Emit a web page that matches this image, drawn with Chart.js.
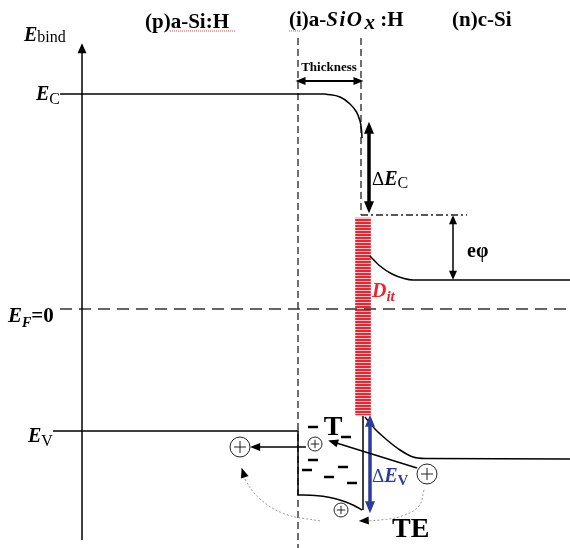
<!DOCTYPE html>
<html><head><meta charset="utf-8">
<style>html,body{margin:0;padding:0;background:#fff}canvas{display:block}</style>
<script src="https://cdn.jsdelivr.net/npm/chart.js@4"></script>
</head><body>
<canvas id="c" width="570" height="548"></canvas>
<script>
// ---- band-diagram data (x: position, arb. units; y: energy, arb. units, E_F = 0) ----
const yAxisLine   = [[82,-231],[82,264]];
const ifaceLeft   = [[298,271],[298,-239]];
const ifaceRight  = [[361,271],[361,94]];
const thickness   = [[298,228],[361,228]];
const ecPFlat     = [[60,215],[325,215]];
const ecPBend     = [[325,215],[340,212],[350,205],[356.5,197],[360,188],[361.5,179],[362,171]];
const dEC         = [[369,183],[369,100]];
const ecInterface = [[361,94],[467,94]];
const ePhi        = [[453,92],[453,31]];
const ecN         = [[370,53],[380,43],[392,35],[404,30.5],[413,29],[570,29]];
const fermi       = [[60,0],[570,0]];
const dit         = [[363,-106,91]];
const evP         = [[53,-122],[298,-122],[298,-186]];
const evOxide     = [[298,-186],[315,-186.5],[330,-188.5],[343,-192],[354,-196.5],[362,-201]];
const oxRight     = [[363,-107],[363,-201]];
const evN         = [[365,-108],[375,-120],[387,-131],[400,-141],[413,-148],[425,-149.5],[570,-150]];
const dEV         = [[370,-110],[370,-200]];
const holeArrow1  = [[306,-138],[252,-138]];
const holeArrow2  = [[417,-159],[330,-132]];
const teArrow1    = [[320,-212],[285,-205],[260,-190],[246,-172],[242,-160]];
const teArrow2    = [[424,-181],[419,-197],[402,-207],[380,-211],[360,-212]];
const holes       = [[240,-138],[315,-135],[427,-165],[341,-201]];
const holeSize    = [10,7,10,7];
const charges     = [[313,-118],[346,-128],[313,-151],[307,-161],[343,-158],[329,-168],[352,-174]];
const underline1  = [[170,278],[235,278]];
const underline2  = [[289,278],[300,278]];

const pts = a => a.map(([x,y]) => ({x,y}));
const BLUE = '#2b3d9c', RED = '#ec2430';

// stripe pattern for interface defect density
const pc = document.createElement('canvas'); pc.width = 4; pc.height = 3;
const pctx = pc.getContext('2d');
pctx.fillStyle = '#fbc6ca'; pctx.fillRect(0,0,4,3);
pctx.fillStyle = RED; pctx.fillRect(0,0,4,2);
const ctx = document.getElementById('c').getContext('2d');
const stripe = ctx.createPattern(pc, 'repeat');

const line = (data, o={}) => Object.assign({data: pts(data), borderColor:'#000', borderWidth:1.5,
  pointRadius:0, fill:false, clip:false, tension:0}, o);
const curve = (data, o={}) => line(data, Object.assign({cubicInterpolationMode:'monotone'}, o));

const datasets = [
  {data: pts(holes), showLine:false, pointStyle:'cross', pointRadius: holeSize.map(r=>r*0.6),
   pointBorderColor:'#222', pointBorderWidth:1, clip:false},
  {data: pts(holes), showLine:false, pointStyle:'circle', pointRadius: holeSize,
   pointBackgroundColor:'#fff', pointBorderColor:'#222', pointBorderWidth:1, clip:false},
  {data: pts(charges), showLine:false, pointStyle:'line', pointRadius:5,
   pointBorderColor:'#000', pointBorderWidth:2.5, clip:false},
  line(holeArrow1, {arrow:{end:true, len:10, w:8}}),
  line(holeArrow2, {arrow:{end:true, len:10, w:8}}),
  line(teArrow1, {borderColor:'#9a9a9a', borderWidth:1, borderDash:[2,2], tension:0.4, arrow:{end:true, len:10, w:8, color:'#000'}}),
  line(teArrow2, {borderColor:'#9a9a9a', borderWidth:1, borderDash:[2,2], tension:0.4, arrow:{end:true, len:10, w:8, color:'#000'}}),
  line(dEV, {borderColor:BLUE, borderWidth:3.5, arrow:{start:true, end:true, len:12, w:10}}),
  line(dEC, {borderWidth:3.5, arrow:{start:true, end:true, len:12, w:10}}),
  line(ePhi, {borderWidth:1.5, arrow:{start:true, end:true, len:9, w:8}}),
  line(thickness, {borderWidth:2, arrow:{start:true, end:true, len:10, w:8}}),
  line(yAxisLine, {borderWidth:1.5, arrow:{end:true, len:10, w:9}}),
  line(ecPFlat), line(ecPBend, {tension:0.4}),
  curve(ecN), curve(evN), curve(evOxide),
  line(evP), line(oxRight),
  line(fermi, {borderColor:'#333', borderDash:[12,7]}),
  line(ifaceLeft, {borderColor:'#222', borderWidth:1.3, borderDash:[7,4]}),
  line(ifaceRight, {borderColor:'#222', borderWidth:1.3, borderDash:[7,4]}),
  line(ecInterface, {borderColor:'#222', borderWidth:1.3, borderDash:[7,3,2,3]}),
  line(underline1, {borderColor:'#e05050', borderWidth:1, borderDash:[1,1]}),
  line(underline2, {borderColor:'#e05050', borderWidth:1, borderDash:[1,1]}),
  {type:'bar', data: dit.map(([x,a,b]) => ({x, y:[a,b]})), backgroundColor: stripe,
   borderWidth:0, barThickness:15, grouped:false}
];

const SERIF = '"Liberation Serif", "Times New Roman", serif';
const f = (s) => s + ' ' + SERIF;
const labels = [
  {x:145, y:281, parts:[{t:'(p)a-Si:H', f:f('bold 21px')}]},
  {x:289, y:283, parts:[{t:'(i)a-', f:f('bold 21px')},{t:'SiO', f:f('italic bold 21px'), ls:'1.5px'},
    {t:'x', f:f('italic bold 21px'), dy:3, dx:1},{t:' :H', f:f('bold 21px')}]},
  {x:452, y:283, parts:[{t:'(n)c-Si', f:f('bold 21px')}]},
  {x:24, y:268, parts:[{t:'E', f:f('italic bold 20px')},{t:'bind', f:f('16px'), dy:1}]},
  {x:329, y:238, align:'center', parts:[{t:'Thickness', f:f('bold 13px')}]},
  {x:36, y:209, parts:[{t:'E', f:f('italic bold 20px')},{t:'C', f:f('16px'), dy:4}]},
  {x:372, y:124, parts:[{t:'Δ', f:f('19px')},{t:'E', f:f('italic bold 20px')},{t:'C', f:f('16px'), dy:3}]},
  {x:467, y:52, parts:[{t:'eφ', f:f('bold 20px')}]},
  {x:372, y:12, color:RED, parts:[{t:'D', f:f('italic bold 20px')},{t:'it', f:f('italic bold 15px'), dy:4}]},
  {x:8, y:-13, parts:[{t:'E', f:f('italic bold 21px')},{t:'F', f:f('italic bold 14px'), dy:5},{t:'=0', f:f('bold 21px')}]},
  {x:28, y:-133, parts:[{t:'E', f:f('italic bold 20px')},{t:'V', f:f('16px'), dy:4}]},
  {x:333, y:-126, align:'center', parts:[{t:'T', f:f('bold 28px')}]},
  {x:372, y:-173, color:BLUE, parts:[{t:'Δ', f:f('19px')},{t:'E', f:f('italic bold 20px')},{t:'V', f:f('bold 15px'), dy:3}]},
  {x:392, y:-228, parts:[{t:'TE', f:f('bold 28px')}]}
];

const arrowPlugin = {
  id:'arrows',
  afterDatasetsDraw(chart){
    const c = chart.ctx;
    chart.data.datasets.forEach((ds,i) => {
      if(!ds.arrow) return;
      const p = chart.getDatasetMeta(i).data;
      const A = ds.arrow;
      const head = (tip, from) => {
        const ang = Math.atan2(tip.y-from.y, tip.x-from.x);
        const ext = (ds.borderWidth/2) * A.len / (A.w/2);
        c.save(); c.translate(tip.x, tip.y); c.rotate(ang); c.translate(ext, 0);
        c.beginPath(); c.moveTo(0,0); c.lineTo(-A.len,-A.w/2); c.lineTo(-A.len,A.w/2); c.closePath();
        c.fillStyle = A.color || ds.borderColor; c.fill(); c.restore();
      };
      if(A.end) head(p[p.length-1], p[p.length-2]);
      if(A.start) head(p[0], p[1]);
    });
  }
};
const textPlugin = {
  id:'texts',
  afterDraw(chart){
    const c = chart.ctx, sx = chart.scales.x, sy = chart.scales.y;
    labels.forEach(l => {
      let px = sx.getPixelForValue(l.x); const py = sy.getPixelForValue(l.y);
      c.save(); c.fillStyle = l.color || '#000'; c.textBaseline = 'alphabetic'; c.textAlign = 'left';
      let total = 0;
      l.parts.forEach(p => { c.font = p.f; c.letterSpacing = p.ls || '0px'; total += c.measureText(p.t).width + (p.dx||0); });
      if(l.align === 'center') px -= total/2;
      l.parts.forEach(p => { c.font = p.f; c.letterSpacing = p.ls || '0px'; px += p.dx||0;
        c.fillText(p.t, px, py + (p.dy||0)); px += c.measureText(p.t).width; });
      c.restore();
    });
  }
};

new Chart(ctx, {
  type:'line',
  data:{datasets},
  options:{
    responsive:false, animation:false, events:[],
    layout:{padding:0, autoPadding:false},
    plugins:{legend:{display:false}, tooltip:{enabled:false}},
    scales:{
      x:{type:'linear', min:0, max:570, display:false, offset:false},
      y:{type:'linear', min:-239, max:309, display:false}
    }
  },
  plugins:[arrowPlugin, textPlugin]
});
</script>
</body></html>
